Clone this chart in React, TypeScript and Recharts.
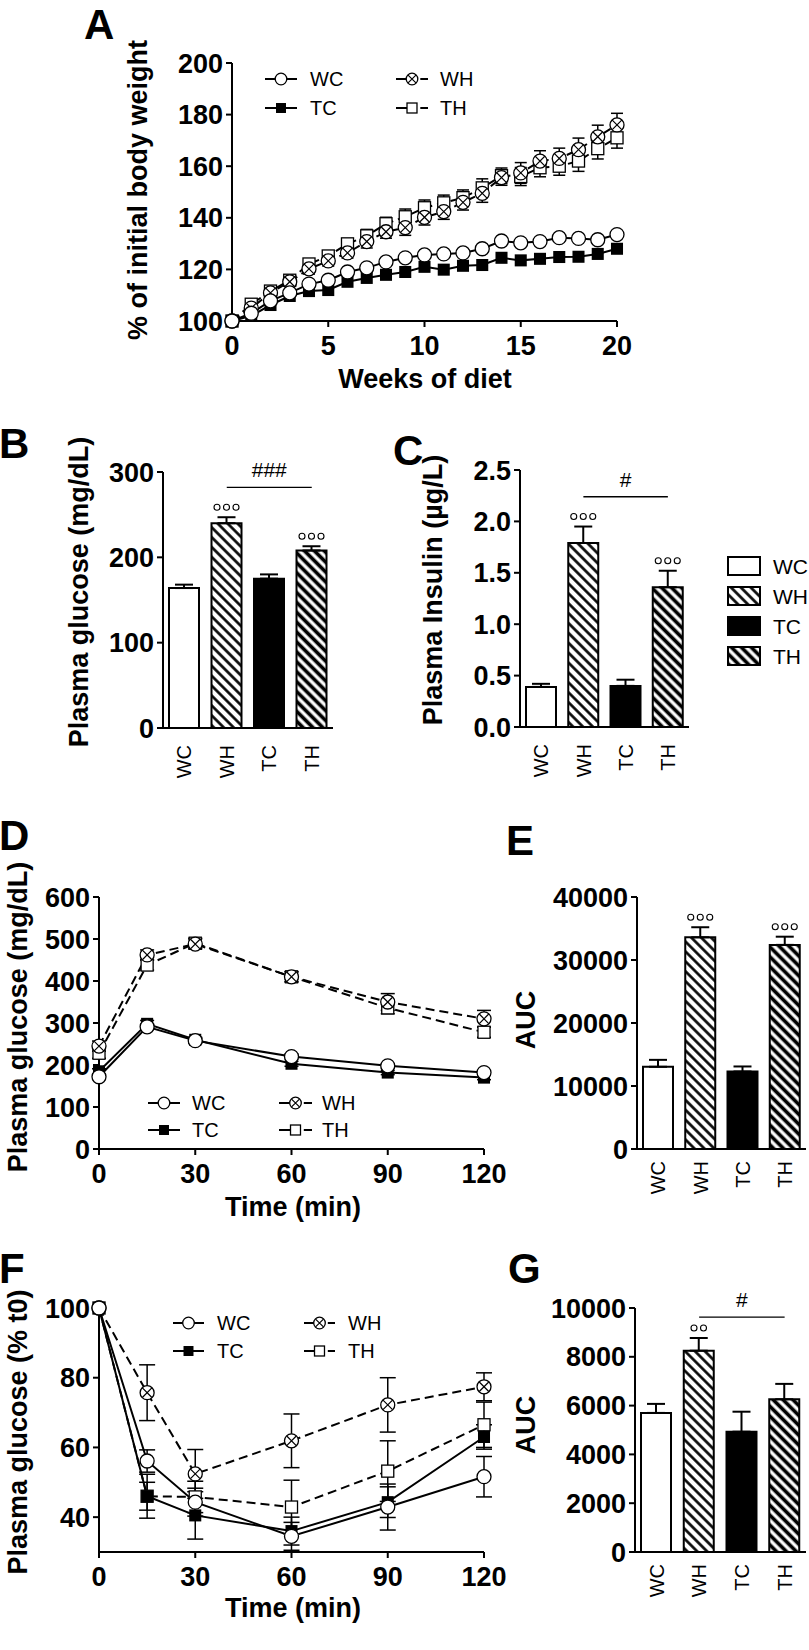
import React from 'react'
import {
  LineChart,
  Line,
  BarChart,
  Bar,
  Cell,
  XAxis,
  YAxis,
  ErrorBar,
  ReferenceLine,
  LabelList
} from 'recharts'

const FONT = '"Liberation Sans", Arial, Helvetica, sans-serif'
const INK = '#000'

// A: body weight, % of initial
const weeks = [0, 1, 2, 3, 4, 5, 6, 7, 8, 9, 10, 11, 12, 13, 14, 15, 16, 17, 18, 19, 20]
const weightWC = [100, 103, 107.8, 110.9, 114.3, 115.8, 119, 120.6, 122.9, 124.5, 125.6, 126, 126.4, 128, 131, 130.3, 130.8, 132.3, 132, 131.5, 133.5]
const weightTC = [100, 102, 106.2, 109.7, 111.6, 112, 115.2, 116.7, 117.9, 119, 121, 119.9, 121.4, 121.7, 124.5, 123.5, 124.1, 124.8, 124.9, 126, 128]
const weightWH = [100, 105, 110.9, 115.2, 120.2, 123.3, 126.4, 130.8, 134.6, 136.2, 140.2, 142.4, 146, 149.5, 155.6, 157.4, 162, 163, 166.4, 171.4, 176]
const weightTH = [100, 106.5, 111.6, 115.8, 122.1, 125.2, 129.9, 133, 137.7, 140.4, 143.9, 145.8, 147.8, 151.6, 156.3, 156, 159.4, 160, 162, 166.8, 171]
const weightErrWC = [0, 0, 0, 0, 0, 0, 0, 0, 0, 0, 0, 0, 0, 0, 0, 0, 0, 0, 0, 0, 0]
const weightErrTC = [0, 0, 0, 0, 0, 0, 0, 0, 0, 0, 0, 0, 0, 0, 0, 0, 0, 0, 0, 0, 0]
const weightErrWH = [0, 1, 1.5, 1.5, 2, 2, 2, 2.5, 2.5, 3, 3, 3, 3, 3.5, 3, 4, 4, 4, 4.5, 4.5, 4.5]
const weightErrTH = [0, 1, 1.5, 1.5, 2, 2, 2, 2.5, 2.5, 3, 3, 3, 3, 3.5, 3, 3.5, 3.5, 3.5, 4, 4, 4]

// bar panels
const groups = ['WC', 'WH', 'TC', 'TH']
const glucose = [164, 240, 175, 208]
const glucoseErr = [4, 7, 5, 5]
const glucoseSig = [0, 3, 0, 3]
const insulin = [0.39, 1.79, 0.4, 1.36]
const insulinErr = [0.03, 0.16, 0.06, 0.16]
const insulinSig = [0, 3, 0, 3]
const gttAuc = [13050, 33600, 12300, 32400]
const gttAucErr = [1100, 1600, 800, 1300]
const gttAucSig = [0, 3, 0, 3]
const ittAuc = [5700, 8250, 4930, 6260]
const ittAucErr = [370, 520, 820, 630]
const ittAucSig = [0, 2, 0, 0]

// D: glucose tolerance test
const minutes = [0, 15, 30, 60, 90, 120]
const gttWC = [172, 291, 258, 220, 198, 182]
const gttTC = [185, 298, 260, 203, 182, 170]
const gttWH = [245, 462, 488, 410, 350, 310]
const gttTH = [228, 438, 490, 410, 336, 278]
const gttErrWC = [6, 6, 6, 6, 5, 5]
const gttErrTC = [6, 8, 6, 6, 5, 5]
const gttErrWH = [12, 12, 12, 12, 20, 20]
const gttErrTH = [12, 12, 12, 12, 14, 12]

// F: insulin tolerance test, % of t0
const ittWC = [100, 56.1, 44.3, 34.5, 42.9, 51.6]
const ittTC = [100, 46, 40.5, 36, 44.3, 63]
const ittWH = [100, 75.7, 52.4, 61.9, 72.2, 77.4]
const ittTH = [100, 46, 45.8, 42.9, 53.2, 66.5]
const ittErrWC = [0, 3.2, 4, 4, 6.6, 5.8]
const ittErrTC = [0, 6.3, 6.8, 4, 4.4, 3.5]
const ittErrWH = [0, 8, 7, 7.7, 7.8, 4]
const ittErrTH = [0, 4, 4.5, 7.7, 8.7, 6.5]

type Kind = 'circle' | 'square' | 'xcircle' | 'osquare'

const groupStyle: Record<string, { kind: Kind; dash?: string }> = {
  WC: { kind: 'circle' },
  TC: { kind: 'square' },
  WH: { kind: 'xcircle', dash: '9 5' },
  TH: { kind: 'osquare', dash: '9 5' }
}
const drawOrder = ['TH', 'WH', 'TC', 'WC']

const barFill: Record<string, string> = {
  WC: '#fff',
  WH: 'url(#hatchWH)',
  TC: '#000',
  TH: 'url(#hatchTH)'
}

const axisLine = { stroke: INK, strokeWidth: 2 }
const tickLine = { stroke: INK, strokeWidth: 2 }
const tickText = { fill: INK, fontSize: 27, fontWeight: 700, fontFamily: FONT }

function buildRows(xs: number[], vals: Record<string, number[]>, errs: Record<string, number[]>) {
  return xs.map((x, i) => {
    const row: Record<string, number> = { x }
    Object.keys(vals).forEach(k => {
      row[k] = vals[k][i]
      row[k + 'Err'] = errs[k][i]
    })
    return row
  })
}

const weightRows = buildRows(
  weeks,
  { WC: weightWC, TC: weightTC, WH: weightWH, TH: weightTH },
  { WC: weightErrWC, TC: weightErrTC, WH: weightErrWH, TH: weightErrTH }
)
const gttRows = buildRows(
  minutes,
  { WC: gttWC, TC: gttTC, WH: gttWH, TH: gttTH },
  { WC: gttErrWC, TC: gttErrTC, WH: gttErrWH, TH: gttErrTH }
)
const ittRows = buildRows(
  minutes,
  { WC: ittWC, TC: ittTC, WH: ittWH, TH: ittTH },
  { WC: ittErrWC, TC: ittErrTC, WH: ittErrWH, TH: ittErrTH }
)

function Marker({ cx, cy, kind, r }: { cx?: number; cy?: number; kind: Kind; r: number }) {
  if (cx == null || cy == null || isNaN(cx) || isNaN(cy)) return null
  const s = r * 0.86
  if (kind === 'square') {
    return <rect x={cx - s} y={cy - s} width={2 * s} height={2 * s} fill={INK} />
  }
  if (kind === 'osquare') {
    return <rect x={cx - s} y={cy - s} width={2 * s} height={2 * s} fill="#fff" stroke={INK} strokeWidth={1.3} />
  }
  if (kind === 'xcircle') {
    const d = r * 0.68
    return (
      <g>
        <circle cx={cx} cy={cy} r={r} fill="#fff" stroke={INK} strokeWidth={1.3} />
        <path
          d={`M${cx - d},${cy - d}L${cx + d},${cy + d}M${cx - d},${cy + d}L${cx + d},${cy - d}`}
          stroke={INK}
          strokeWidth={1.2}
        />
      </g>
    )
  }
  return <circle cx={cx} cy={cy} r={r} fill="#fff" stroke={INK} strokeWidth={1.3} />
}

function YTitle({ px, py, text }: any) {
  return (
    <text
      x={px}
      y={py}
      transform={`rotate(-90, ${px}, ${py})`}
      textAnchor="middle"
      fontFamily={FONT}
      fontSize={27}
      fontWeight={700}
      fill={INK}
    >
      {text}
    </text>
  )
}

function XTitle({ px, py, text }: any) {
  return (
    <text x={px} y={py} textAnchor="middle" fontFamily={FONT} fontSize={27} fontWeight={700} fill={INK}>
      {text}
    </text>
  )
}

function CatTick({ x, y, payload, gap }: any) {
  const yy = y + gap
  return (
    <text
      x={x}
      y={yy}
      transform={`rotate(-90, ${x}, ${yy})`}
      textAnchor="end"
      dy="0.36em"
      fontFamily={FONT}
      fontSize={20}
      fill={INK}
    >
      {payload.value}
    </text>
  )
}

function seriesLine(g: string, r: number, capW: number) {
  const st = groupStyle[g]
  return (
    <Line
      key={g}
      dataKey={g}
      type="linear"
      stroke={INK}
      strokeWidth={2}
      strokeDasharray={st.dash}
      dot={(p: any) => <Marker key={`${g}-${p.index}`} cx={p.cx} cy={p.cy} kind={st.kind} r={r} />}
      activeDot={false}
      isAnimationActive={false}
    >
      <ErrorBar dataKey={`${g}Err`} width={capW} stroke={INK} strokeWidth={1.5} direction="y" />
    </Line>
  )
}

interface LinePanelProps {
  left: number
  top: number
  width: number
  height: number
  marginTop: number
  marginRight: number
  yAxisWidth: number
  rows: Record<string, number>[]
  xDomain: [number, number]
  xTicks: number[]
  yDomain: [number, number]
  yTicks: number[]
  capW: number
  xTitle: { text: string; px: number; py: number }
  yTitle: { text: string; px: number; py: number }
}

function LinePanel(p: LinePanelProps) {
  return (
    <div style={{ position: 'absolute', left: p.left, top: p.top }}>
      <LineChart
        width={p.width}
        height={p.height}
        data={p.rows}
        margin={{ top: p.marginTop, right: p.marginRight, bottom: 0, left: 0 }}
      >
        <XAxis
          type="number"
          dataKey="x"
          domain={p.xDomain}
          ticks={p.xTicks}
          interval={0}
          height={80}
          axisLine={axisLine}
          tickLine={tickLine}
          tickSize={6}
          tickMargin={9}
          tick={tickText}
          label={<XTitle {...p.xTitle} />}
        />
        <YAxis
          type="number"
          domain={p.yDomain}
          ticks={p.yTicks}
          interval={0}
          width={p.yAxisWidth}
          axisLine={axisLine}
          tickLine={tickLine}
          tickSize={6}
          tickMargin={3}
          tick={tickText}
          label={<YTitle {...p.yTitle} />}
        />
        {drawOrder.map(g => seriesLine(g, 7, p.capW))}
      </LineChart>
    </div>
  )
}

const sigMarks = (errs: number[], sigs: number[]) => (props: any) => {
  const i = props.index
  const n = sigs[i]
  if (!n) return null
  const box = props.viewBox && props.viewBox.width != null ? props.viewBox : props
  const { x, y, width, height } = box
  const v = Number(props.value)
  if (!v || !height) return null
  const errPx = (errs[i] * height) / v
  const cy = y - errPx - 10
  const cx0 = x + width / 2
  return (
    <g key={`sig-${i}`}>
      {sigs.slice(0, n).map((_, k) => (
        <circle
          key={k}
          cx={cx0 + (k - (n - 1) / 2) * 9.5}
          cy={cy}
          r={3}
          fill="#fff"
          stroke={INK}
          strokeWidth={1.1}
        />
      ))}
    </g>
  )
}

interface BarPanelProps {
  left: number
  top: number
  width: number
  height: number
  marginTop: number
  marginRight: number
  yAxisWidth: number
  xAxisHeight: number
  gap: number
  values: number[]
  errs: number[]
  sigs: number[]
  yDomain: [number, number]
  yTicks: number[]
  yFmt?: (v: number) => string
  yTitle: { text: string; px: number; py: number }
  sigLine?: { y: number; text: string }
}

function BarPanel(p: BarPanelProps) {
  const rows = groups.map((g, i) => ({ group: g, value: p.values[i], err: [0, p.errs[i]] }))
  return (
    <div style={{ position: 'absolute', left: p.left, top: p.top }}>
      <BarChart
        width={p.width}
        height={p.height}
        data={rows}
        margin={{ top: p.marginTop, right: p.marginRight, bottom: 0, left: 0 }}
        barSize={30}
      >
        <XAxis
          dataKey="group"
          interval={0}
          height={p.xAxisHeight}
          axisLine={axisLine}
          tickLine={false}
          tickSize={0}
          tickMargin={0}
          tick={<CatTick gap={p.gap} />}
        />
        <YAxis
          type="number"
          domain={p.yDomain}
          ticks={p.yTicks}
          interval={0}
          width={p.yAxisWidth}
          axisLine={axisLine}
          tickLine={tickLine}
          tickSize={6}
          tickMargin={3}
          tick={tickText}
          tickFormatter={p.yFmt}
          label={<YTitle {...p.yTitle} />}
        />
        <Bar dataKey="value" stroke={INK} strokeWidth={2} isAnimationActive={false}>
          {groups.map(g => (
            <Cell key={g} fill={barFill[g]} />
          ))}
          <ErrorBar dataKey="err" width={9} stroke={INK} strokeWidth={2} direction="y" />
          <LabelList dataKey="value" content={sigMarks(p.errs, p.sigs)} />
        </Bar>
        {p.sigLine && (
          <ReferenceLine
            segment={[
              { x: 'WH', y: p.sigLine.y },
              { x: 'TH', y: p.sigLine.y }
            ]}
            stroke={INK}
            strokeWidth={1.3}
            ifOverflow="visible"
            label={{
              value: p.sigLine.text,
              position: 'top',
              offset: 10,
              fill: INK,
              fontSize: 21,
              fontFamily: FONT
            }}
          />
        )}
      </BarChart>
    </div>
  )
}

function LegendKey({ x1, x2, y, g, tx }: { x1: number; x2: number; y: number; g: string; tx: number }) {
  const st = groupStyle[g]
  const cx = (x1 + x2) / 2
  const r = 5.8
  return (
    <g>
      {st.dash ? (
        <>
          <line x1={x1} y1={y} x2={cx} y2={y} stroke={INK} strokeWidth={2} />
          <line x1={cx + r + 2.5} y1={y} x2={x2} y2={y} stroke={INK} strokeWidth={2} />
        </>
      ) : (
        <line x1={x1} y1={y} x2={x2} y2={y} stroke={INK} strokeWidth={2} />
      )}
      <Marker cx={cx} cy={y} kind={st.kind} r={r} />
      <text x={tx} y={y} dy="0.36em" fontFamily={FONT} fontSize={20} fill={INK}>
        {g}
      </text>
    </g>
  )
}

function LineLegend({ rows, cols }: { rows: number[]; cols: { x1: number; x2: number; tx: number }[] }) {
  const layout = [
    ['WC', 'TC'],
    ['WH', 'TH']
  ]
  return (
    <g>
      {cols.map((c, ci) =>
        layout[ci].map((g, ri) => <LegendKey key={g} x1={c.x1} x2={c.x2} tx={c.tx} y={rows[ri]} g={g} />)
      )}
    </g>
  )
}

function Overlay() {
  const letters = [
    { t: 'A', x: 84, y: 39 },
    { t: 'B', x: -1, y: 458 },
    { t: 'C', x: 393, y: 465 },
    { t: 'D', x: -1, y: 850 },
    { t: 'E', x: 506, y: 855 },
    { t: 'F', x: -1, y: 1283 },
    { t: 'G', x: 508, y: 1283 }
  ]
  const boxRows = [566, 596, 626, 656]
  return (
    <svg
      width={809}
      height={1650}
      style={{ position: 'absolute', left: 0, top: 0, pointerEvents: 'none' }}
    >
      <defs>
        <pattern id="hatchWH" width={7} height={7} patternUnits="userSpaceOnUse" patternTransform="rotate(-45)">
          <rect width={7} height={7} fill="#fff" />
          <line x1={3.5} y1={0} x2={3.5} y2={7} stroke={INK} strokeWidth={2.6} />
        </pattern>
        <pattern id="hatchTH" width={7} height={7} patternUnits="userSpaceOnUse" patternTransform="rotate(-45)">
          <rect width={7} height={7} fill="#fff" />
          <line x1={3.5} y1={0} x2={3.5} y2={7} stroke={INK} strokeWidth={3.7} />
        </pattern>
      </defs>
      {letters.map(l => (
        <text key={l.t} x={l.x} y={l.y} fontFamily={FONT} fontSize={42} fontWeight={700} fill={INK}>
          {l.t}
        </text>
      ))}
      <LineLegend rows={[79, 108]} cols={[{ x1: 265, x2: 297, tx: 310 }, { x1: 396, x2: 428, tx: 440 }]} />
      <LineLegend rows={[1103, 1130]} cols={[{ x1: 148, x2: 180, tx: 192 }, { x1: 279, x2: 312, tx: 322 }]} />
      <LineLegend rows={[1323, 1351]} cols={[{ x1: 173, x2: 204, tx: 217 }, { x1: 304, x2: 335, tx: 348 }]} />
      {groups.map((g, i) => (
        <g key={g}>
          <rect x={728} y={boxRows[i] - 9} width={32} height={18} fill={barFill[g]} stroke={INK} strokeWidth={2} />
          <text x={773} y={boxRows[i]} dy="0.36em" fontFamily={FONT} fontSize={21} fill={INK}>
            {g}
          </text>
        </g>
      ))}
    </svg>
  )
}

export default function App() {
  return (
    <div style={{ position: 'absolute', left: 0, top: 0, width: 809, height: 1650, background: '#fff' }}>
      <LinePanel
        left={100}
        top={0}
        width={537}
        height={401}
        marginTop={63}
        marginRight={20}
        yAxisWidth={132}
        rows={weightRows}
        xDomain={[0, 20]}
        xTicks={[0, 5, 10, 15, 20]}
        yDomain={[100, 200]}
        yTicks={[100, 120, 140, 160, 180, 200]}
        capW={6}
        xTitle={{ text: 'Weeks of diet', px: 325, py: 388 }}
        yTitle={{ text: '% of initial body weight', px: 47, py: 190 }}
      />
      <BarPanel
        left={40}
        top={420}
        width={303}
        height={368}
        marginTop={52}
        marginRight={10}
        yAxisWidth={123}
        xAxisHeight={60}
        gap={17}
        values={glucose}
        errs={glucoseErr}
        sigs={glucoseSig}
        yDomain={[0, 300]}
        yTicks={[0, 100, 200, 300]}
        yTitle={{ text: 'Plasma glucose (mg/dL)', px: 48, py: 172 }}
        sigLine={{ y: 282, text: '###' }}
      />
      <BarPanel
        left={400}
        top={420}
        width={299}
        height={368}
        marginTop={50}
        marginRight={10}
        yAxisWidth={120}
        xAxisHeight={61}
        gap={17}
        values={insulin}
        errs={insulinErr}
        sigs={insulinSig}
        yDomain={[0, 2.5]}
        yTicks={[0, 0.5, 1, 1.5, 2, 2.5]}
        yFmt={(v: number) => v.toFixed(1)}
        yTitle={{ text: 'Plasma Insulin (µg/L)', px: 42, py: 170 }}
        sigLine={{ y: 2.24, text: '#' }}
      />
      <LinePanel
        left={0}
        top={860}
        width={510}
        height={369}
        marginTop={37}
        marginRight={26}
        yAxisWidth={99}
        rows={gttRows}
        xDomain={[0, 120]}
        xTicks={[0, 30, 60, 90, 120]}
        yDomain={[0, 600]}
        yTicks={[0, 100, 200, 300, 400, 500, 600]}
        capW={7}
        xTitle={{ text: 'Time (min)', px: 293, py: 356 }}
        yTitle={{ text: 'Plasma glucose (mg/dL)', px: 27, py: 157 }}
      />
      <BarPanel
        left={490}
        top={860}
        width={319}
        height={349}
        marginTop={37}
        marginRight={3}
        yAxisWidth={147}
        xAxisHeight={60}
        gap={12}
        values={gttAuc}
        errs={gttAucErr}
        sigs={gttAucSig}
        yDomain={[0, 40000]}
        yTicks={[0, 10000, 20000, 30000, 40000]}
        yTitle={{ text: 'AUC', px: 45, py: 160 }}
      />
      <LinePanel
        left={0}
        top={1270}
        width={510}
        height={362}
        marginTop={38}
        marginRight={26}
        yAxisWidth={99}
        rows={ittRows}
        xDomain={[0, 120]}
        xTicks={[0, 30, 60, 90, 120]}
        yDomain={[30, 100]}
        yTicks={[40, 60, 80, 100]}
        capW={8}
        xTitle={{ text: 'Time (min)', px: 293, py: 347 }}
        yTitle={{ text: 'Plasma glucose (% t0)', px: 27, py: 162 }}
      />
      <BarPanel
        left={490}
        top={1270}
        width={319}
        height={342}
        marginTop={38}
        marginRight={3}
        yAxisWidth={145}
        xAxisHeight={60}
        gap={12}
        values={ittAuc}
        errs={ittAucErr}
        sigs={ittAucSig}
        yDomain={[0, 10000]}
        yTicks={[0, 2000, 4000, 6000, 8000, 10000]}
        yTitle={{ text: 'AUC', px: 45, py: 155 }}
        sigLine={{ y: 9630, text: '#' }}
      />
      <Overlay />
    </div>
  )
}
